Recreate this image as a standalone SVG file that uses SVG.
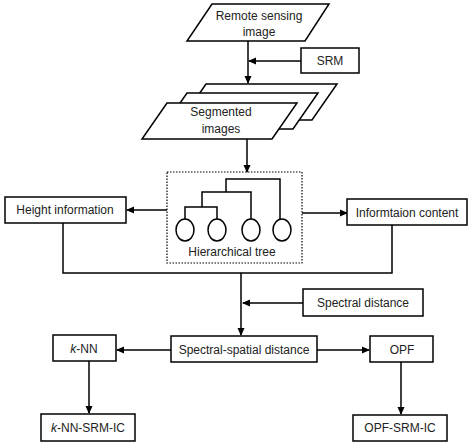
<svg xmlns="http://www.w3.org/2000/svg" width="474" height="448" viewBox="0 0 474 448">
<style>
.s{fill:#fff;stroke:#000;stroke-width:1.5}
.l{fill:none;stroke:#000;stroke-width:1.5}
.t{font-family:"Liberation Sans",Arial,sans-serif;font-size:12px;fill:#222;text-anchor:middle}
</style>
<defs>
<marker id="a" markerWidth="8" markerHeight="8" refX="7" refY="4" orient="auto" markerUnits="userSpaceOnUse">
<path d="M0,0.5 L8,4 L0,7.5 Z" fill="#000"/>
</marker>
</defs>
<rect width="474" height="448" fill="#fff"/>
<g id="connectors">
<line class="l" x1="248" y1="41" x2="248" y2="83" marker-end="url(#a)"/>
<line class="l" x1="301" y1="61" x2="249" y2="61" marker-end="url(#a)"/>
<line class="l" x1="247" y1="139" x2="247" y2="172" marker-end="url(#a)"/>
<line class="l" x1="167" y1="210" x2="127" y2="210" marker-end="url(#a)"/>
<line class="l" x1="302" y1="213" x2="347" y2="213" marker-end="url(#a)"/>
<polyline class="l" points="63,223 63,273 392,273 392,225"/>
<line class="l" x1="241" y1="273" x2="241" y2="335" marker-end="url(#a)"/>
<line class="l" x1="303" y1="303" x2="243" y2="303" marker-end="url(#a)"/>
<line class="l" x1="171" y1="350" x2="117" y2="350" marker-end="url(#a)"/>
<line class="l" x1="317" y1="350" x2="369" y2="350" marker-end="url(#a)"/>
<line class="l" x1="89" y1="361" x2="89" y2="413" marker-end="url(#a)"/>
<line class="l" x1="401" y1="362" x2="401" y2="414" marker-end="url(#a)"/>
</g>
<g id="remote">
<polygon class="s" points="212,4 329,4 305,41 187,41"/>
<text class="t" x="259" y="20">Remote sensing</text>
<text class="t" x="259" y="36">image</text>
</g>
<g id="srm">
<rect class="s" x="301" y="48" width="58" height="25"/>
<text class="t" x="330" y="65">SRM</text>
</g>
<g id="segmented">
<polygon class="s" points="206,84 337,84 312,120 181,120"/>
<polygon class="s" points="187,93 318,93 293,129 162,129"/>
<polygon class="s" points="167,103 297,103 272,139 142,139"/>
<text class="t" x="221" y="116">Segmented</text>
<text class="t" x="221" y="133">images</text>
</g>
<g id="tree">
<rect x="167" y="172" width="135" height="91" fill="none" stroke="#000" stroke-width="1.2" stroke-dasharray="1.5,1.5"/>
<path class="l" d="M226,192 V179 H280 V219 M202,207 V192 H251 V219 M185,219 V207 H217 V219"/>
<ellipse class="s" cx="185" cy="230" rx="9" ry="11"/>
<ellipse class="s" cx="217" cy="230" rx="9" ry="11"/>
<ellipse class="s" cx="251" cy="230" rx="9" ry="11"/>
<ellipse class="s" cx="282" cy="230" rx="9" ry="11"/>
<text class="t" x="232" y="256">Hierarchical tree</text>
</g>
<g id="height">
<rect class="s" x="5" y="197" width="121" height="26"/>
<text class="t" x="65" y="214">Height information</text>
</g>
<g id="info">
<rect class="s" x="347" y="199" width="120" height="26"/>
<text class="t" x="407" y="217">Informtaion content</text>
</g>
<g id="spectral">
<rect class="s" x="303" y="289" width="120" height="27"/>
<text class="t" x="363" y="307">Spectral distance</text>
</g>
<g id="ssd">
<rect class="s" x="171" y="336" width="146" height="26"/>
<text class="t" x="244" y="354">Spectral-spatial distance</text>
</g>
<g id="knn">
<rect class="s" x="53" y="335" width="63" height="26"/>
<text class="t" x="84" y="353"><tspan font-style="italic">k</tspan>-NN</text>
</g>
<g id="opf">
<rect class="s" x="370" y="336" width="63" height="26"/>
<text class="t" x="402" y="354">OPF</text>
</g>
<g id="knnsrm">
<rect class="s" x="41" y="414" width="94" height="27"/>
<text class="t" x="88" y="432"><tspan font-style="italic">k</tspan>-NN-SRM-IC</text>
</g>
<g id="opfsrm">
<rect class="s" x="353" y="415" width="94" height="26"/>
<text class="t" x="400" y="432">OPF-SRM-IC</text>
</g>
</svg>
